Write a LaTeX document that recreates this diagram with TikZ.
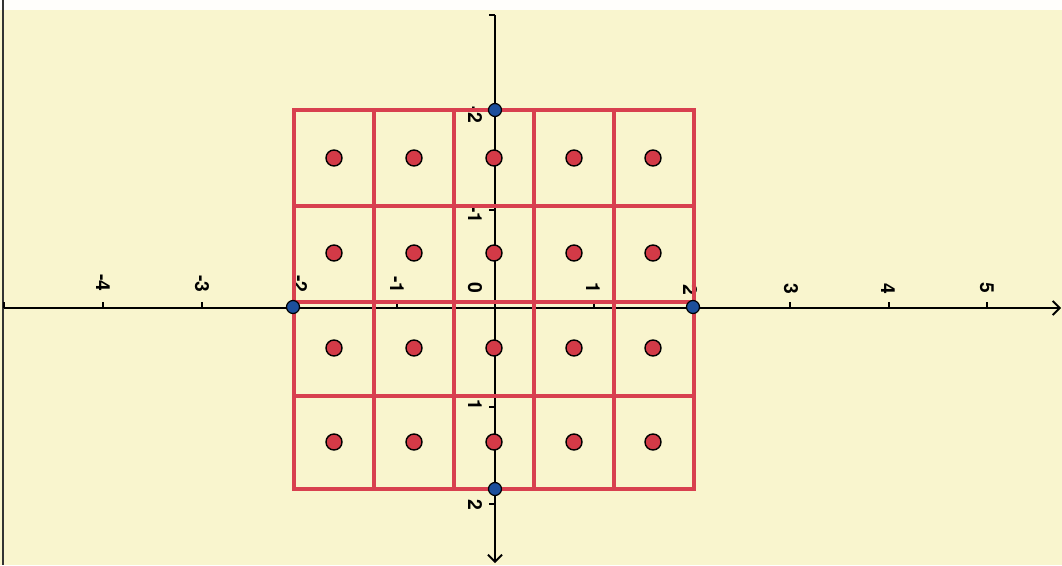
\documentclass[tikz,border=0pt]{standalone}
\usepackage{fontspec}
\setmainfont{TeX Gyre Heros}
\usetikzlibrary{positioning,calc,arrows.meta}

\definecolor{paper}{HTML}{F9F5CE}
\definecolor{gridred}{HTML}{D8404F}
\definecolor{dotred}{HTML}{D33A47}
\definecolor{dotblue}{HTML}{1C4F9C}

\begin{document}
\begin{tikzpicture}[x=0.02cm, y=-0.02cm,
    axisline/.style={draw=black, line width=1.1pt},
    tickline/.style={draw=black, line width=0.9pt},
    gridline/.style={draw=gridred, line width=1.8pt},
    reddot/.style={circle, draw=black, line width=0.8pt, fill=dotred, minimum size=0.32cm, inner sep=0pt},
    bluedot/.style={circle, draw=black, line width=0.7pt, fill=dotblue, minimum size=0.26cm, inner sep=0pt},
    ticklabel/.style={rotate=-90, inner sep=0pt, font=\fontsize{11}{12}\selectfont\bfseries}]

    \useasboundingbox (0,0) rectangle (1062,565);

    % paper
    \path[fill=paper] (0,0) rectangle (1062,565);
    \path[fill=white!92!paper] (0,0) rectangle (1062,10);
    \path[draw=black!80, line width=1.2pt] (3,0) -- (3,565);

    % axes
    \coordinate (xstart) at (4,308);
    \coordinate (xend) at (1061,308);
    \coordinate (ystart) at (495,15);
    \coordinate (yend) at (495,563);
    \path[axisline, -{Straight Barb[length=4pt,width=8pt]}] (xstart) -- (xend);
    \path[axisline, -{Straight Barb[length=4pt,width=8pt]}] (ystart) -- (yend);
    \path[tickline] (xstart) -- ++(0,-6);
    \path[tickline] (ystart) -- ++(-6,0);

    % ticks and labels on the horizontal axis
    \foreach \x in {103, 202, 295, 397, 594, 693, 790, 889, 987} {
        \path[tickline] (\x,308) -- (\x,302);
    }
    \foreach \x/\y/\lab/\nm in {103/283/-4/m4, 202/284/-3/m3, 300/284/-2/m2, 397/285/-1/m1,
                                475/288/0/z, 593/288/1/p1, 690/290/2/p2, 791/289/3/p3,
                                888/289/4/p4, 987/288/5/p5} {
        \node[ticklabel] (lx-\nm) at (\x,\y) {\lab};
    }

    % ticks and labels on the vertical axis
    \foreach \y in {108, 210, 407, 504} {
        \path[tickline] (489,\y) -- (495,\y);
    }
    \foreach \y/\lab/\nm in {115/-2/m2, 215/-1/m1, 405/1/p1, 505/2/p2} {
        \node[ticklabel] (ly-\nm) at (475,\y) {\lab};
    }

    % red grid
    \path[gridline] (294,110) rectangle (694,489);
    \foreach \x in {374, 454, 534, 614} {
        \path[gridline] (\x,110) -- (\x,489);
    }
    \foreach \y in {206, 302, 396} {
        \path[gridline] (294,\y) -- (694,\y);
    }

    % dots in the cells
    \foreach \x [count=\i] in {334, 414, 494, 574, 653} {
        \foreach \y [count=\j] in {158, 253, 348, 442} {
            \node[reddot] (r-\i-\j) at (\x,\y) {};
        }
    }

    % corner points on the axes
    \node[bluedot] (b-top) at (495,110) {};
    \node[bluedot] (b-left) at (293,307) {};
    \node[bluedot] (b-right) at (693,307) {};
    \node[bluedot] (b-bottom) at (495,489) {};

\end{tikzpicture}
\end{document}
